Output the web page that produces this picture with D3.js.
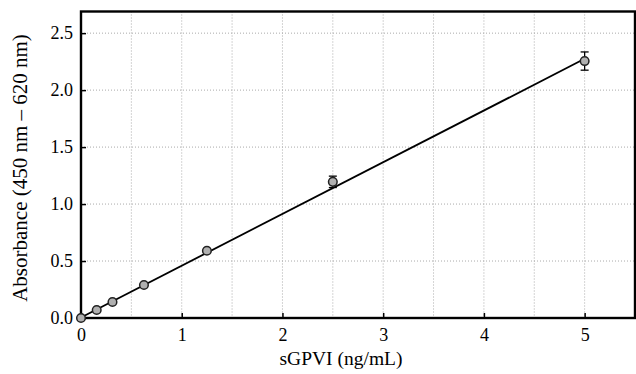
<!DOCTYPE html>
<html><head><meta charset="utf-8">
<script src="https://cdn.jsdelivr.net/npm/d3@7"></script>
<style>body{margin:0;background:#fff}svg{display:block}text{font-family:'Liberation Serif','DejaVu Serif',serif}</style>
</head><body><svg id="c" width="636" height="374"></svg>
<script>
const conc = [0, 0.156, 0.3125, 0.625, 1.25, 2.5, 5];
const absorb = [0.0, 0.07, 0.14, 0.29, 0.59, 1.195, 2.255];
const errs = [0, 0, 0, 0, 0, 0.05, 0.08];
const fitX = [0, 5];
const fitY = [0.005, 2.275];
const xTicks = [0, 1, 2, 3, 4, 5];
const yTicks = [0.0, 0.5, 1.0, 1.5, 2.0, 2.5];
const xGrid = [0.5, 1, 1.5, 2, 2.5, 3, 3.5, 4, 4.5, 5];
const yGrid = [0.5, 1.0, 1.5, 2.0, 2.5];

const svg = d3.select('#c');
const L = 81, R = 635, T = 11.5, B = 318;
const x = d3.scaleLinear().domain([0, 5.5]).range([L, R]);
const y = d3.scaleLinear().domain([0, 2.69]).range([B, T]);
const font = "'Liberation Serif','DejaVu Serif',serif";

// grid
svg.append('g').selectAll('line').data(xGrid).join('line')
  .attr('x1', d => x(d)).attr('x2', d => x(d)).attr('y1', T).attr('y2', B)
  .attr('stroke', '#aaa').attr('stroke-width', 1).attr('stroke-dasharray', '1,2');
svg.append('g').selectAll('line').data(yGrid).join('line')
  .attr('x1', L).attr('x2', R).attr('y1', d => y(d)).attr('y2', d => y(d))
  .attr('stroke', '#aaa').attr('stroke-width', 1).attr('stroke-dasharray', '1,2');

// axes
const xa = svg.append('g').attr('transform', `translate(0,${B})`)
  .call(d3.axisBottom(x).tickValues(xTicks).tickFormat(d3.format('d')).tickSizeInner(-5).tickSizeOuter(0).tickPadding(10));
const ya = svg.append('g').attr('transform', `translate(${L},0)`)
  .call(d3.axisLeft(y).tickValues(yTicks).tickFormat(d3.format('.1f')).tickSizeInner(-5).tickSizeOuter(0).tickPadding(8));
[xa, ya].forEach(a => {
  a.select('.domain').remove();
  a.selectAll('line').attr('stroke', '#000').attr('stroke-width', 1.5);
  a.selectAll('text').style('font-family', font).attr('font-size', 18).attr('fill', '#000');
});
xa.selectAll('text').attr('dy', '0.71em');

// frame
svg.append('rect').attr('x', L).attr('y', T).attr('width', R - L).attr('height', B - T)
  .attr('fill', 'none').attr('stroke', '#000').attr('stroke-width', 2.4);

// fit line
svg.append('line').attr('x1', x(fitX[0])).attr('y1', y(fitY[0])).attr('x2', x(fitX[1])).attr('y2', y(fitY[1]))
  .attr('stroke', '#000').attr('stroke-width', 1.8);

// error bars
const eb = svg.append('g');
conc.forEach((c, i) => {
  if (!errs[i]) return;
  const cx = x(c), y1 = y(absorb[i] + errs[i]), y2 = y(absorb[i] - errs[i]);
  eb.append('line').attr('x1', cx).attr('x2', cx).attr('y1', y1).attr('y2', y2).attr('stroke', '#000').attr('stroke-width', 1.3);
  [y1, y2].forEach(yy => eb.append('line').attr('x1', cx - 4).attr('x2', cx + 4).attr('y1', yy).attr('y2', yy).attr('stroke', '#000').attr('stroke-width', 1.3));
});

// points
svg.append('g').selectAll('circle').data(conc).join('circle')
  .attr('cx', d => x(d)).attr('cy', (d, i) => y(absorb[i])).attr('r', 4.3)
  .attr('fill', '#b0b0b0').attr('stroke', '#222').attr('stroke-width', 1.5);

// titles
svg.append('text').attr('x', 341).attr('y', 365).attr('text-anchor', 'middle')
  .style('font-family', font).attr('font-size', 19.5).text('sGPVI (ng/mL)');
svg.append('text').attr('transform', `translate(27,168) rotate(-90)`).attr('text-anchor', 'middle')
  .style('font-family', font).attr('font-size', 21).text('Absorbance (450 nm – 620 nm)');
</script></body></html>
